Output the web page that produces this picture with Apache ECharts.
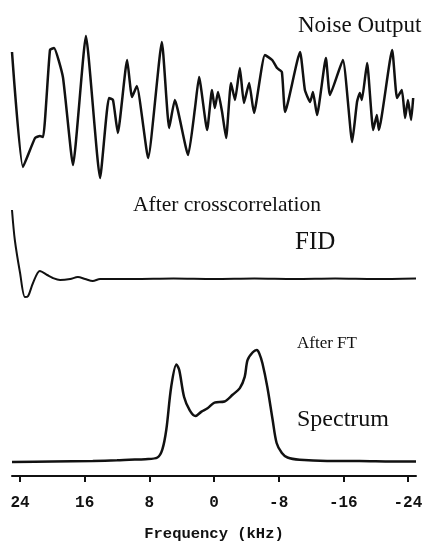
<!DOCTYPE html>
<html>
<head>
<meta charset="utf-8">
<script src="https://cdn.jsdelivr.net/npm/echarts@6/dist/echarts.min.js"></script>
<style>
  html, body { margin: 0; padding: 0; background: #fff; }
  #chart { width: 428px; height: 546px; }
</style>
</head>
<body>
<div id="chart"></div>
<script>
// top trace: noise input (time axis in arbitrary units 0..100)
const noiseTime = [0, 2.7, 5.7, 6.9, 7.7, 9.4, 10.4, 12.6, 15.1, 18.3, 21.8, 24.0, 25.0, 26.2, 28.5, 29.7, 30.9, 33.7,
  37.1, 38.9, 40.3, 43.6, 45.3, 46.3, 48.3, 49.5, 50.2, 51.0, 52.0, 53.0, 54.2, 55.2, 56.4, 57.4, 58.7, 59.9,
  62.6, 64.4, 65.6, 66.8, 67.6, 71.3, 72.5, 73.8, 74.5, 75.5, 77.7, 78.7, 81.9, 84.2, 85.4, 86.1, 86.6, 87.9,
  89.4, 90.3, 90.8, 94.1, 95.3, 96.5, 97.3, 98.0, 98.8, 99.3];
const noiseAmp = [58, -57, -28, -26, -27, 60, 62, 33, -55, 74, -68, 12, 10, -23, 50, 13, 24, -48,
  68, -18, 10, -45, 2, 33, -20, 20, 2, 18, -2, -28, 27, 10, 42, 7, 27, -3,
  55, 50, 42, 38, -2, 58, 20, 8, 18, -5, 52, 15, 50, -32, 8, 17, 10, 47,
  -20, -5, -20, 60, 12, 20, -8, 10, -10, 12];

// middle trace: FID after crosscorrelation
const fidTime = [0, 0.7, 2.0, 3.2, 4.0, 5.2, 6.9, 8.7, 10.1, 11.9, 14.4, 16.3, 18.1, 20, 21.8, 30, 40, 50, 60, 70, 80, 90, 100];
const fidAmp = [69, 39, 6, -18, -17, -4, 8, 4, 1, -1, 0, 2, 0, -2, 0, 0, 0.5, 0, 0.5, 0, 0.5, 0, 0.5];

// bottom trace: spectrum after FT
const freqKHz = [25, 20, 15, 12, 10.5, 8.5, 7.0, 6.4, 5.9, 5.3, 4.65, 4.3, 3.7, 3.0, 2.3, 1.55, 0.8, -0.06, -1.3, -2.3,
  -3.2, -3.8, -4.15, -4.8, -5.3, -5.6, -6.0, -6.6, -7.25, -7.75, -8.4, -9.1, -10.6, -14, -18, -22, -25];
const spectrumInt = [0, 0.5, 1, 1.5, 2, 2.5, 4, 11, 29, 67, 87, 82, 58, 46, 41, 45, 48, 53, 54, 60,
  66, 76, 91, 98, 100, 97, 88, 67, 38, 17, 8, 4, 2, 1, 1, 0.5, 0.5];

const freqTicks = [24, 16, 8, 0, -8, -16, -24];

const zip = (xs, ys) => xs.map((x, i) => [x, ys[i]]);

const chart = echarts.init(document.getElementById('chart'));

const mono = 'Liberation Mono';
const ink = '#111';

const hiddenAxis = (extra) => Object.assign({ type: 'value', show: false, splitLine: { show: false } }, extra);

const option = {
  animation: false,
  backgroundColor: '#fff',
  grid: [
    { left: 12, right: 12, top: 30, height: 160 },
    { left: 12, right: 12, top: 200, height: 110 },
    { left: 12, right: 12, top: 350, height: 126 }
  ],
  xAxis: [
    hiddenAxis({ gridIndex: 0, min: 0, max: 100 }),
    hiddenAxis({ gridIndex: 1, min: 0, max: 100 }),
    {
      type: 'value',
      gridIndex: 2,
      min: -25,
      max: 25,
      inverse: true,
      name: 'Frequency (kHz)',
      nameLocation: 'middle',
      nameGap: 50,
      nameTextStyle: { fontFamily: mono, fontWeight: 'bold', fontSize: 15.5, color: ink },
      splitLine: { show: false },
      axisLine: { onZero: false, lineStyle: { color: ink, width: 2 } },
      axisTick: { show: true, length: 6, customValues: freqTicks, lineStyle: { color: ink, width: 2 } },
      axisLabel: {
        customValues: freqTicks,
        margin: 19,
        fontFamily: mono,
        fontWeight: 'bold',
        fontSize: 16,
        color: ink
      }
    }
  ],
  yAxis: [
    hiddenAxis({ gridIndex: 0, min: -80, max: 80 }),
    hiddenAxis({ gridIndex: 1, min: -31, max: 79 }),
    hiddenAxis({ gridIndex: 2, min: -12.5, max: 100 })
  ],
  graphic: [
    { type: 'text', left: 298, top: 14, style: { text: 'Noise Output', font: '23px "Liberation Serif"', fill: ink } },
    { type: 'text', left: 133, top: 194, style: { text: 'After crosscorrelation', font: '21.5px "Liberation Serif"', fill: ink } },
    { type: 'text', left: 295, top: 230, style: { text: 'FID', font: '25px "Liberation Serif"', fill: ink } },
    { type: 'text', left: 297, top: 335, style: { text: 'After FT', font: '17px "Liberation Serif"', fill: ink } },
    { type: 'text', left: 297, top: 408, style: { text: 'Spectrum', font: '24px "Liberation Serif"', fill: ink } }
  ],
  series: [
    {
      type: 'line', xAxisIndex: 0, yAxisIndex: 0, data: zip(noiseTime, noiseAmp),
      showSymbol: false, smooth: 0.15, clip: false,
      lineStyle: { color: ink, width: 2.5 }
    },
    {
      type: 'line', xAxisIndex: 1, yAxisIndex: 1, data: zip(fidTime, fidAmp),
      showSymbol: false, smooth: 0.3, clip: false,
      lineStyle: { color: ink, width: 2 }
    },
    {
      type: 'line', xAxisIndex: 2, yAxisIndex: 2, data: zip(freqKHz, spectrumInt),
      showSymbol: false, smooth: 0.3, clip: false,
      lineStyle: { color: ink, width: 2.5 }
    }
  ]
};

chart.setOption(option);
</script>
</body>
</html>
